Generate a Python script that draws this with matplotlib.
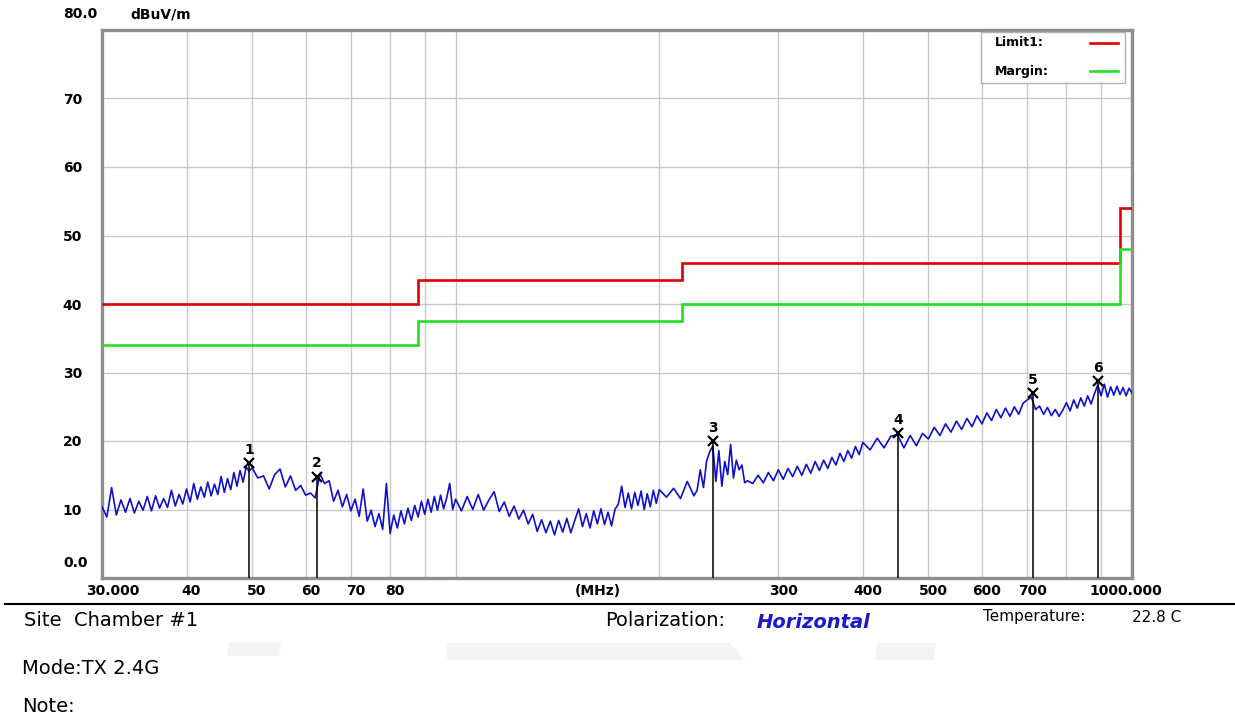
import matplotlib
matplotlib.use('Agg')
import matplotlib.pyplot as plt
import numpy as np
from matplotlib.lines import Line2D
from matplotlib.patches import Rectangle, Polygon
from matplotlib.transforms import offset_copy

W, H = 1235, 719

# ---- measured trace (MHz, dBuV/m) ----
freq_a = [30.0, 30.5, 31.0, 31.5, 32.0, 32.5, 33.0, 33.5, 34.0, 34.5,
          35.0, 35.5, 36.0, 36.5, 37.0, 37.5, 38.0, 38.5, 39.0, 39.5,
          40.0, 40.5, 41.0, 41.5, 42.0, 42.5, 43.0, 43.5, 44.0, 44.5,
          45.0, 45.5, 46.0, 46.5, 47.0, 47.5, 48.0, 48.5, 49.0, 49.5]
level_a = [10.4, 8.9, 13.2, 9.2, 11.4, 9.6, 11.6, 9.5, 11.2, 9.9,
           11.9, 9.8, 12.0, 10.2, 11.6, 10.3, 12.8, 10.5, 12.2, 10.8,
           13.0, 11.1, 13.8, 11.5, 13.3, 11.8, 14.0, 12.0, 13.7, 12.2,
           14.8, 12.5, 14.5, 12.9, 15.4, 13.4, 15.7, 14.0, 16.2, 15.6]

freq_b = [50, 51, 52, 53, 54, 55, 56, 57, 58, 59,
          60, 61, 62, 63, 64, 65, 66, 67, 68, 69,
          70, 71, 72, 73, 74, 75, 76, 77, 78, 79,
          80, 81, 82, 83, 84, 85, 86, 87, 88, 89,
          90, 91, 92, 93, 94, 95, 96, 97, 98, 99]
level_b = [16.1, 14.6, 14.9, 13.0, 15.1, 15.9, 13.3, 14.9, 12.8, 13.5,
           12.1, 12.4, 11.7, 15.2, 13.8, 14.2, 11.2, 12.8, 10.4, 12.2,
           9.8, 11.5, 9.0, 13.0, 8.3, 9.9, 7.5, 9.4, 7.1, 13.8,
           6.5, 9.2, 7.3, 9.8, 7.9, 10.2, 8.4, 10.6, 8.9, 11.2,
           9.3, 11.5, 9.6, 11.9, 9.9, 12.1, 10.1, 11.7, 13.8, 10.0]

freq_c = [100, 102, 104, 106, 108, 110, 112, 114, 116, 118,
          120, 122, 124, 126, 128, 130, 132, 134, 136, 138,
          140, 142, 144, 146, 148, 150, 152, 154, 156, 158,
          160, 162, 164, 166, 168, 170, 172, 174, 176, 178,
          180, 182, 184, 186, 188, 190, 192, 194, 196, 198]
level_c = [11.5, 9.8, 11.9, 10.0, 12.2, 9.9, 11.4, 12.6, 9.7, 11.1,
           9.0, 10.5, 8.6, 9.9, 7.9, 9.3, 6.8, 8.5, 6.6, 8.3,
           6.3, 8.4, 6.7, 8.7, 6.6, 8.4, 10.1, 7.5, 9.4, 7.3,
           9.8, 7.9, 10.1, 7.8, 9.6, 7.6, 10.0, 10.8, 13.4, 10.3,
           12.4, 10.1, 12.5, 10.6, 12.7, 10.0, 12.3, 10.4, 12.8, 10.9]

freq_d = [200, 205, 210, 215, 220, 225,
          227.5, 230, 232.5, 235, 237.5, 240, 242.5, 245, 247.5, 250,
          252.5, 255, 257.5, 260, 262.5, 265, 267.5, 270,
          275, 280, 285, 290, 295, 300, 305, 310, 315, 320,
          325, 330, 335, 340, 345, 350, 355, 360, 365, 370,
          375, 380, 385, 390, 395]
level_d = [12.9, 11.8, 13.1, 11.6, 14.1, 12.0,
           12.8, 15.8, 13.2, 17.1, 18.4, 19.3, 14.1, 18.6, 13.4, 17.0,
           15.1, 19.5, 14.6, 17.2, 15.8, 16.5, 13.9, 14.2,
           13.8, 15.0, 13.9, 15.4, 14.2, 15.8, 14.4, 16.0, 14.8, 16.3,
           15.0, 16.6, 15.3, 17.0, 15.7, 17.2, 16.0, 17.6, 16.5, 18.2,
           17.0, 18.6, 17.5, 19.2, 18.0]

freq_e = [400, 410, 420, 430, 440, 450, 460, 470, 480, 490,
          500, 510, 520, 530, 540, 550, 560, 570, 580, 590,
          600, 610, 620, 630, 640, 650, 660, 670, 680, 690,
          700, 710, 720, 730, 740, 750, 760, 770, 780, 790,
          800, 810, 820, 830, 840, 850, 860, 870, 880, 890,
          900, 910, 920, 930, 940, 950, 960, 970, 980, 990, 1000]
level_e = [19.8, 18.7, 20.4, 19.0, 20.7, 20.9, 19.0, 20.8, 19.3, 21.1,
           20.3, 22.0, 20.8, 22.5, 21.3, 22.9, 21.7, 23.3, 22.1, 23.7,
           22.5, 24.1, 23.0, 24.6, 23.4, 24.8, 23.6, 25.0, 23.9, 25.5,
           26.0, 26.4, 24.6, 25.1, 23.9, 24.9, 23.7, 24.6, 23.6, 24.5,
           25.6, 24.4, 26.0, 24.8, 26.3, 25.1, 26.6, 25.4, 26.9, 28.2,
           26.6, 28.3, 26.4, 27.9, 26.7, 28.0, 26.8, 27.8, 26.6, 27.7, 27.0]

freq = np.array(freq_a + freq_b + freq_c + freq_d + freq_e, dtype=float)
level = np.array(level_a + level_b + level_c + level_d + level_e)

# ---- limit and margin (step lines) ----
limit_edges = [30, 88, 216, 960, 1000]
limit_level = [40, 43.5, 46, 54]
margin_level = [34, 37.5, 40, 48]

# ---- peak markers ----
mark_freq = [49.5, 62.3, 240.0, 451.0, 713.0, 891.0]
mark_level = [16.8, 14.8, 20.0, 21.1, 27.0, 28.8]

x_labels = [(30, '30.000'), (40, '40'), (50, '50'), (60, '60'), (70, '70'),
            (80, '80'), (300, '300'), (400, '400'), (500, '500'),
            (600, '600'), (700, '700'), (1000, '1000.000')]
grid_freqs = [40, 50, 60, 70, 80, 90, 100, 200, 300, 400, 500, 600, 700, 800, 900]
y_ticks = [10, 20, 30, 40, 50, 60, 70]

RED = '#e00000'
GREEN = '#22e022'
BLUE = '#1010c8'


def fx(x):
    return x / W


def fy(y):
    return 1 - y / H


fig = plt.figure(figsize=(W / 100, H / 100), dpi=100)
fig.patch.set_facecolor('white')

ax = fig.add_axes([fx(102), fy(578), 1030 / W, 548 / H])
ax.set_xscale('log')
ax.set_xlim(30, 1000)
ax.set_ylim(0, 80)
ax.set_xticks(grid_freqs)
ax.set_xticks([], minor=True)
ax.set_xticklabels([])
ax.set_yticks(y_ticks)
ax.set_yticklabels([str(v) for v in y_ticks], fontweight='bold', fontsize=10)
ax.tick_params(length=0)
ax.tick_params(axis='y', pad=14.4)
ax.set_axisbelow(True)
ax.grid(True, color='#c8c8c8', lw=1.0)
for sp in ax.spines.values():
    sp.set_color('#8e8e8e')
    sp.set_linewidth(2.4)

ax.stairs(limit_level, limit_edges, color=RED, lw=1.9, baseline=None, zorder=3)
ax.stairs(margin_level, limit_edges, color=GREEN, lw=1.9, baseline=None, zorder=3)

ax.plot(freq, level, color=BLUE, lw=1.2, zorder=4)

ax.vlines(mark_freq, 0, mark_level, color='black', lw=1.1, zorder=5)
ax.plot(mark_freq, mark_level, 'x', color='black', ms=7.5, mew=1.6, zorder=6)
for i, (f, v) in enumerate(zip(mark_freq, mark_level)):
    ax.annotate(str(i + 1), (f, v), xytext=(0, 9.5), textcoords='offset points',
                ha='center', va='center', fontsize=10, fontweight='bold', zorder=6)

# x tick labels placed below the axis
for f, lab in x_labels:
    dx = 11 if f == 30 else (-6 if f == 1000 else 5)
    tr = offset_copy(ax.get_xaxis_transform(), fig=fig, x=dx, y=0, units='dots')
    ax.text(f, -0.024, lab, transform=tr, ha='center', va='center',
            fontsize=10, fontweight='bold')
fig.text(fx(598), fy(591), '(MHz)', ha='center', va='center', fontsize=10, fontweight='bold')

# axis end labels and unit
fig.text(fx(97), fy(14), '80.0', ha='right', va='center', fontsize=10, fontweight='bold')
fig.text(fx(88), fy(563), '0.0', ha='right', va='center', fontsize=10, fontweight='bold')
fig.text(fx(130), fy(14), 'dBuV/m', ha='left', va='center', fontsize=10, fontweight='bold')

# legend box
fig.add_artist(Rectangle((fx(981), fy(83)), 144 / W, 51 / H, transform=fig.transFigure,
                         facecolor='white', edgecolor='#b0b0b0', lw=1.0, zorder=5))
fig.text(fx(995), fy(43), 'Limit1:', ha='left', va='center', fontsize=9, fontweight='bold', zorder=6)
fig.text(fx(995), fy(71), 'Margin:', ha='left', va='center', fontsize=9, fontweight='bold', zorder=6)
fig.add_artist(Line2D([fx(1090), fx(1118)], [fy(43), fy(43)], color=RED, lw=1.9, zorder=6))
fig.add_artist(Line2D([fx(1090), fx(1118)], [fy(71), fy(71)], color=GREEN, lw=1.9, zorder=6))

# separator line under the chart
fig.add_artist(Line2D([fx(5), fx(1235)], [fy(604), fy(604)], color='black', lw=1.5))

# faint watermark pieces
wm = '#f3f3f3'
fig.add_artist(Polygon([(fx(229), fy(642)), (fx(281), fy(642)), (fx(279), fy(656)), (fx(227), fy(656))],
                       closed=True, transform=fig.transFigure, facecolor=wm, edgecolor='none', zorder=0))
fig.add_artist(Polygon([(fx(447), fy(643)), (fx(730), fy(643)), (fx(745), fy(660)), (fx(447), fy(660))],
                       closed=True, transform=fig.transFigure, facecolor=wm, edgecolor='none', zorder=0))
fig.add_artist(Polygon([(fx(877), fy(643)), (fx(936), fy(643)), (fx(934), fy(660)), (fx(875), fy(660))],
                       closed=True, transform=fig.transFigure, facecolor=wm, edgecolor='none', zorder=0))

# info text
fig.text(fx(24), fy(620), 'Site  Chamber #1', ha='left', va='center', fontsize=14)
fig.text(fx(605), fy(621), 'Polarization:', ha='left', va='center', fontsize=14)
fig.text(fx(757), fy(622), 'Horizontal', ha='left', va='center', fontsize=14,
         fontweight='bold', fontstyle='italic', color='#1a1acc')
fig.text(fx(983), fy(617), 'Temperature:', ha='left', va='center', fontsize=11)
fig.text(fx(1132), fy(617), '22.8 C', ha='left', va='center', fontsize=11)
fig.text(fx(22), fy(669), 'Mode:TX 2.4G', ha='left', va='center', fontsize=14)
fig.text(fx(22), fy(707), 'Note:', ha='left', va='center', fontsize=14)

fig.savefig('out.png', dpi=100)
